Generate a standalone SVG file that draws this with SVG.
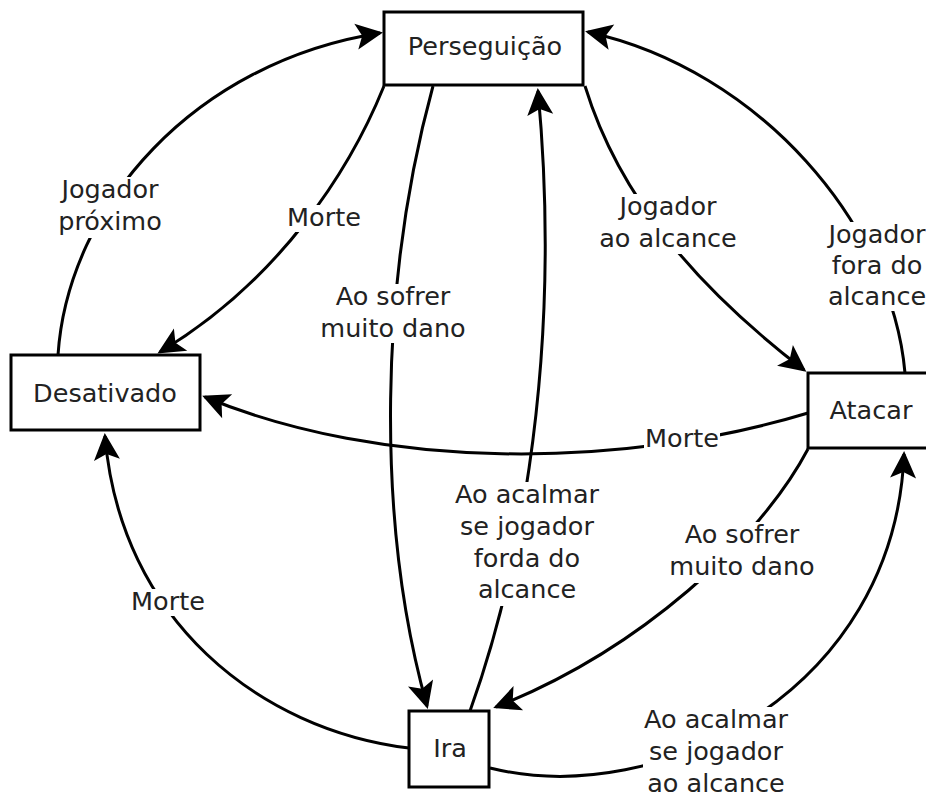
<svg xmlns="http://www.w3.org/2000/svg" width="926" height="798" viewBox="0 0 926 798">
<style>
.box{fill:#fff;stroke:#000;stroke-width:3}
.t{font-family:"DejaVu Sans",sans-serif;font-size:25.5px;fill:#222;text-anchor:middle}
.e{fill:none;stroke:#000;stroke-width:3;marker-end:url(#a)}
.bg{fill:#fff}
</style>
<defs>
<marker id="a" markerUnits="userSpaceOnUse" orient="auto" refX="-3" refY="0" markerWidth="1" markerHeight="1" overflow="visible">
<path d="M0,0 L-27,-13 L-21,0 L-27,13 Z" fill="#000"/>
</marker>
</defs>
<rect width="926" height="798" fill="#fff"/>
<g id="connectors">
<path class="e" d="M58,355 C68,205 195,62 380,33"/>
<path class="e" d="M384,86 C350,170 280,280 160,352"/>
<path class="e" d="M433,86 C380,280 375,520 427,706"/>
<path class="e" d="M470,711 C510,600 565,380 538,91"/>
<path class="e" d="M585,86 C620,200 700,290 804,370"/>
<path class="e" d="M905,373 C892,225 760,70 588,32"/>
<path class="e" d="M808,413 C620,470 380,470 205,397"/>
<path class="e" d="M808,449 C760,540 640,650 496,707"/>
<path class="e" d="M409,748 C260,730 120,620 105,436"/>
<path class="e" d="M490,768 C660,810 895,690 904,454"/>
</g>
<g id="labels">
<rect class="bg" x="58" y="177" width="104" height="61"/>
<text class="t" x="110" y="198">Jogador</text>
<text class="t" x="110" y="230">próximo</text>
<rect class="bg" x="286" y="205" width="76" height="27"/>
<text class="t" x="324" y="226">Morte</text>
<rect class="bg" x="320" y="284" width="146" height="59"/>
<text class="t" x="393" y="305">Ao sofrer</text>
<text class="t" x="393" y="337">muito dano</text>
<rect class="bg" x="600" y="194" width="136" height="60"/>
<text class="t" x="668" y="215">Jogador</text>
<text class="t" x="668" y="247">ao alcance</text>
<rect class="bg" x="826" y="222" width="104" height="89"/>
<text class="t" x="877" y="243">Jogador</text>
<text class="t" x="877" y="274">fora do</text>
<text class="t" x="877" y="305">alcance</text>
<rect class="bg" x="644" y="426" width="76" height="27"/>
<text class="t" x="682" y="447">Morte</text>
<rect class="bg" x="454" y="482" width="146" height="124"/>
<text class="t" x="527" y="503">Ao acalmar</text>
<text class="t" x="527" y="535">se jogador</text>
<text class="t" x="527" y="567">forda do</text>
<text class="t" x="527" y="598">alcance</text>
<rect class="bg" x="668" y="522" width="148" height="61"/>
<text class="t" x="742" y="543">Ao sofrer</text>
<text class="t" x="742" y="575">muito dano</text>
<rect class="bg" x="130" y="589" width="76" height="27"/>
<text class="t" x="168" y="610">Morte</text>
<rect class="bg" x="643" y="707" width="147" height="91"/>
<text class="t" x="716" y="728">Ao acalmar</text>
<text class="t" x="716" y="760">se jogador</text>
<text class="t" x="716" y="792">ao alcance</text>
</g>
<g id="perseguicao">
<rect class="box" x="384" y="12" width="199" height="73"/>
<text class="t" x="485" y="55">Perseguição</text>
</g>
<g id="desativado">
<rect class="box" x="11" y="355" width="189" height="75"/>
<text class="t" x="105" y="402">Desativado</text>
</g>
<g id="atacar">
<rect class="box" x="808" y="373" width="126" height="75"/>
<text class="t" x="871" y="419">Atacar</text>
</g>
<g id="ira">
<rect class="box" x="409" y="711" width="80" height="76"/>
<text class="t" x="450" y="757">Ira</text>
</g>
</svg>
